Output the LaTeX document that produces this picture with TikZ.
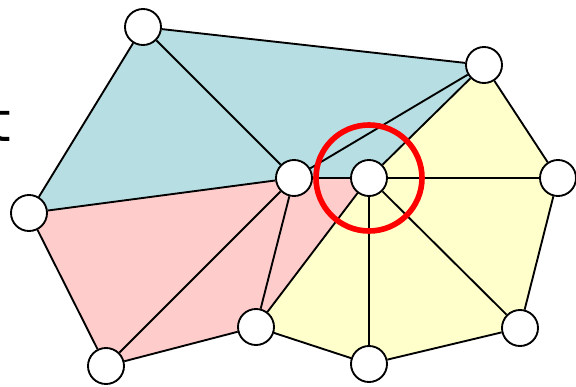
\documentclass[tikz,border=0pt]{standalone}
\usepackage{fontspec}
\setmainfont{Carlito}
\newfontfamily\lblfont{DejaVu Sans}
\usetikzlibrary{backgrounds}
\definecolor{regblue}{RGB}{183,222,226}
\definecolor{regpink}{RGB}{255,204,204}
\definecolor{regyellow}{RGB}{255,255,204}
\begin{document}
\begin{tikzpicture}[x=0.03cm,y=-0.03cm,
  vtx/.style={draw,circle,fill=white,line width=1.6pt,minimum size=1.08cm,inner sep=0pt},
  edge/.style={line width=1.6pt}]
\useasboundingbox (0,0) rectangle (576,387);
\node[font=\lblfont\fontsize{47}{52}\selectfont,anchor=base west,inner sep=0pt] (lbl) at (-11,141) {t};
% vertices
\node[vtx] (va) at (143,27) {};
\node[vtx] (vb) at (484,65) {};
\node[vtx] (vc) at (29,213) {};
\node[vtx] (vd) at (294,178) {};
\node[vtx] (ve) at (369,178) {};
\node[vtx] (vf) at (558,178) {};
\node[vtx] (vg) at (106,366) {};
\node[vtx] (vh) at (256,327) {};
\node[vtx] (vi) at (369,364) {};
\node[vtx] (vj) at (520,328) {};
\begin{scope}[on background layer]
\fill[regblue] (vc.center) -- (va.center) -- (vb.center) -- (ve.center) -- (vd.center) -- cycle;
\fill[regpink] (vc.center) -- (vd.center) -- (ve.center) -- (vh.center) -- (vg.center) -- cycle;
\fill[regyellow] (ve.center) -- (vb.center) -- (vf.center) -- (vj.center) -- (vi.center) -- (vh.center) -- cycle;
\end{scope}
% edges
\draw[edge] (va) -- (vb) (va) -- (vc) (va) -- (vd);
\draw[edge] (vb) -- (vd) (vb) -- (ve) (vb) -- (vf);
\draw[edge] (vc) -- (vd) (vc) -- (vg) (vd) -- (ve);
\draw[edge] (vd) -- (vg) (vd) -- (vh) (vg) -- (vh);
\draw[edge] (vh) -- (ve) (vh) -- (vi);
\draw[edge] (ve) -- (vi) (ve) -- (vj) (ve) -- (vf);
\draw[edge] (vf) -- (vj) (vi) -- (vj);
\node[draw=red,circle,line width=4.8pt,minimum size=3.18cm,inner sep=0pt] (mark) at (ve) {};
\end{tikzpicture}
\end{document}
